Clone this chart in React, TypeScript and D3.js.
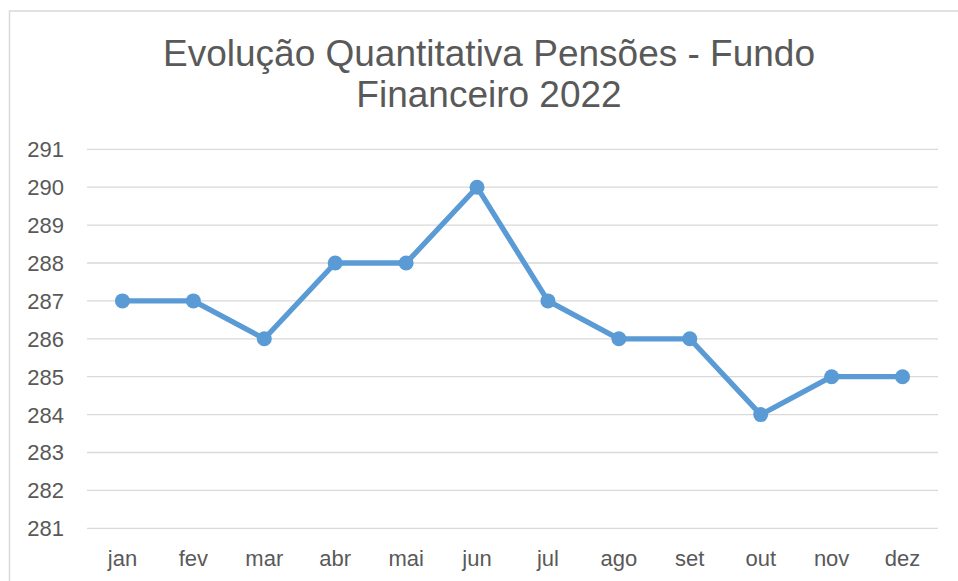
import React from "react";
import * as d3 from "d3";

const months = ["jan", "fev", "mar", "abr", "mai", "jun", "jul", "ago", "set", "out", "nov", "dez"];
const values = [287, 287, 286, 288, 288, 290, 287, 286, 286, 284, 285, 285];
const yTicks = [281, 282, 283, 284, 285, 286, 287, 288, 289, 290, 291];
const titleLines = ["Evolução Quantitativa Pensões - Fundo", "Financeiro 2022"];

export default function App() {
  const W = 958, H = 581;
  const left = 87, right = 938, top = 149.3, bottom = 528.3;
  const x = d3.scaleBand<string>().domain(months).range([left, right]);
  const y = d3.scaleLinear().domain([281, 291]).range([bottom, top]);
  const line = d3.line<number>()
    .x((_, i) => (x(months[i]) as number) + x.bandwidth() / 2)
    .y((d) => y(d));
  const font = "'Liberation Sans', Arial, sans-serif";
  return (
    <svg width={W} height={H} style={{ position: "absolute", left: 0, top: 0, background: "#fff" }}>
      <rect x={9.5} y={11} width={W + 20} height={H + 20} fill="#fff" stroke="#d9d9d9" strokeWidth={1.5} />
      {titleLines.map((t, i) => (
        <text key={i} x={489} y={65.5 + i * 41.5} textAnchor="middle" fontFamily={font} fontSize={37} fill="#595959">{t}</text>
      ))}
      {yTicks.map((t) => (
        <g key={t}>
          <line x1={left} x2={right} y1={y(t)} y2={y(t)} stroke="#d9d9d9" strokeWidth={1.3} />
          <text x={64} y={y(t)} dy="0.36em" textAnchor="end" fontFamily={font} fontSize={22} fill="#595959">{t}</text>
        </g>
      ))}
      {months.map((m) => (
        <text key={m} x={(x(m) as number) + x.bandwidth() / 2} y={566} textAnchor="middle" fontFamily={font} fontSize={22} fill="#595959">{m}</text>
      ))}
      <path d={line(values) || ""} fill="none" stroke="#5B9BD5" strokeWidth={5.3} strokeLinejoin="round" strokeLinecap="round" />
      {values.map((v, i) => (
        <circle key={i} cx={(x(months[i]) as number) + x.bandwidth() / 2} cy={y(v)} r={7.5} fill="#5B9BD5" />
      ))}
    </svg>
  );
}
